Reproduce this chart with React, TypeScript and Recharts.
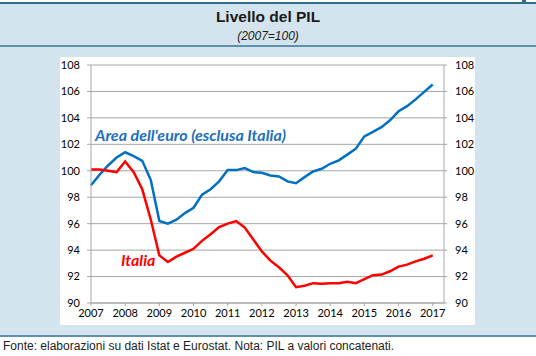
import { LineChart, Line, XAxis, YAxis, CartesianGrid } from "recharts";

// quarterly GDP levels, 2007Q1 .. 2017Q1 (2007 = 100)
const euroArea = [
  98.9, 99.7, 100.4, 101.0,
  101.4, 101.1, 100.75, 99.3,
  96.2, 96.0, 96.3, 96.8,
  97.2, 98.2, 98.6, 99.2,
  100.05, 100.05, 100.2, 99.9,
  99.85, 99.65, 99.57, 99.2,
  99.06, 99.52, 99.95, 100.15,
  100.53, 100.79, 101.22, 101.67,
  102.6, 102.94, 103.3, 103.82,
  104.5, 104.89, 105.4, 105.97,
  106.53,
];
const italia = [
  100.1, 100.1, 100.0, 99.9,
  100.7, 99.9, 98.6, 96.3,
  93.6, 93.1, 93.5, 93.8,
  94.1, 94.7, 95.2, 95.75,
  96.0, 96.2, 95.7, 94.8,
  93.9, 93.2, 92.7, 92.1,
  91.2, 91.3, 91.5, 91.45,
  91.5, 91.5, 91.6, 91.5,
  91.8, 92.1, 92.15, 92.4,
  92.75, 92.9, 93.15, 93.35,
  93.6,
];
const years = [2007, 2008, 2009, 2010, 2011, 2012, 2013, 2014, 2015, 2016, 2017];
const yTicks = [90, 92, 94, 96, 98, 100, 102, 104, 106, 108];

const data = euroArea.map((v, i) => ({
  t: years[0] + i / 4,
  euro: v,
  italia: italia[i],
}));

const grey = "#a6a6a6";
const tickFont = { fontFamily: "Lato, sans-serif", fontSize: 11, fill: "#000" };

export default function App() {
  return (
    <div
      style={{
        position: "absolute",
        left: 0,
        top: 0,
        width: 536,
        height: 356,
        background: "#fff",
        fontFamily: "'Liberation Sans', Arial, sans-serif",
      }}
    >
      <div style={{ position: "absolute", left: 0, top: 3, width: 536, height: 333, background: "#d4e4ee" }} />
      <div style={{ position: "absolute", left: 0, top: 2, width: 536, height: 2, background: "#2f6f8e" }} />
      <div style={{ position: "absolute", left: 522, top: 0, width: 4, height: 3, background: "#2f6f8e" }} />
      <div style={{ position: "absolute", left: 0, top: 45, width: 536, height: 2, background: "#5b93ad" }} />
      <div style={{ position: "absolute", left: 0, top: 335, width: 536, height: 2, background: "#5b93ad" }} />
      <div
        style={{
          position: "absolute",
          left: 0,
          top: 8,
          width: 536,
          textAlign: "center",
          fontWeight: "bold",
          fontSize: 15.5,
          color: "#1a1a1a",
        }}
      >
        Livello del PIL
      </div>
      <div
        style={{
          position: "absolute",
          left: 0,
          top: 29,
          width: 536,
          textAlign: "center",
          fontStyle: "italic",
          fontSize: 12,
          color: "#1a1a1a",
        }}
      >
        (2007=100)
      </div>
      <div style={{ position: "absolute", left: 60, top: 57, width: 415, height: 268, background: "#fff" }}>
        <LineChart width={415} height={268} data={data} margin={{ top: 8, right: 0, bottom: 0, left: 0 }}>
          <CartesianGrid yAxisId="left" vertical={false} stroke={grey} strokeWidth={1} />
          <XAxis
            dataKey="t"
            type="number"
            domain={[2007, 2017.33]}
            ticks={years}
            height={22}
            tick={tickFont}
            tickSize={3}
            tickMargin={3}
            axisLine={{ stroke: grey }}
            tickLine={{ stroke: grey }}
            interval={0}
          />
          <YAxis
            yAxisId="left"
            domain={[90, 108]}
            ticks={yTicks}
            width={31}
            tick={tickFont}
            tickSize={4}
            tickMargin={7}
            axisLine={{ stroke: grey }}
            tickLine={{ stroke: grey }}
            interval={0}
          />
          <YAxis
            yAxisId="right"
            orientation="right"
            domain={[90, 108]}
            ticks={yTicks}
            width={31}
            tick={{ ...tickFont, textAnchor: "start" }}
            tickSize={3}
            tickMargin={8}
            axisLine={{ stroke: grey }}
            tickLine={{ stroke: grey }}
            interval={0}
          />
          <Line
            yAxisId="left"
            dataKey="euro"
            type="linear"
            stroke="#0070c0"
            strokeWidth={2.5}
            dot={false}
            isAnimationActive={false}
          />
          <Line
            yAxisId="right"
            dataKey="italia"
            type="linear"
            stroke="#ff0000"
            strokeWidth={2.5}
            dot={false}
            isAnimationActive={false}
          />
        </LineChart>
      </div>
      <div
        style={{
          position: "absolute",
          left: 95,
          top: 125,
          fontFamily: "Lato, sans-serif",
          fontWeight: "bold",
          fontStyle: "italic",
          fontSize: 16,
          color: "#1c6fc0",
          whiteSpace: "nowrap",
        }}
      >
        Area dell'euro (esclusa Italia)
      </div>
      <div
        style={{
          position: "absolute",
          left: 121,
          top: 250,
          fontFamily: "Lato, sans-serif",
          fontWeight: "bold",
          fontStyle: "italic",
          fontSize: 16,
          color: "#ff0000",
          whiteSpace: "nowrap",
        }}
      >
        Italia
      </div>
      <div
        style={{
          position: "absolute",
          left: 3,
          top: 339,
          fontSize: 12,
          color: "#222",
          whiteSpace: "nowrap",
        }}
      >
        Fonte: elaborazioni su dati Istat e Eurostat. Nota: PIL a valori concatenati.
      </div>
    </div>
  );
}
